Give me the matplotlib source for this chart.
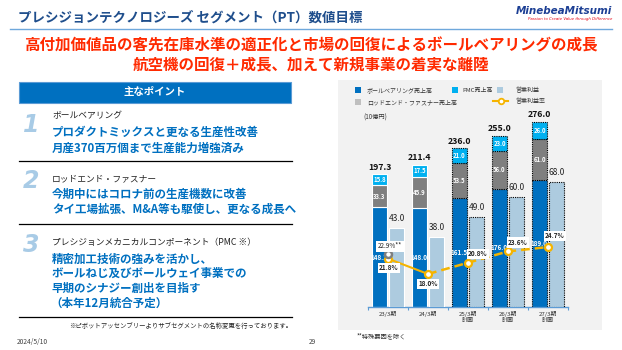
import numpy as np
import matplotlib.pyplot as plt
from matplotlib.patches import Rectangle
from matplotlib.lines import Line2D

plt.rcParams['font.family'] = ['Noto Sans CJK JP', 'DejaVu Sans']

# データ
periods = ['23/3期', '24/3期', '25/3期', '26/3期', '27/3期']
plan_note = ['', '', '計画', '計画', '計画']
ball_bearing = [148.2, 148.0, 161.5, 176.0, 189.0]
rod_end = [33.3, 45.9, 53.5, 56.0, 61.0]
pmc = [15.8, 17.5, 21.0, 23.0, 26.0]
totals = [197.3, 211.4, 236.0, 255.0, 276.0]
op_profit = [43.0, 38.0, 49.0, 60.0, 68.0]
op_margin = [21.8, 18.0, 20.8, 23.6, 24.7]
margin_special = 22.9  # 23/3期 特殊要因を除く

W, H = 622, 350
BLUE = '#0070c0'
PMC_C = '#00b0f0'
GRAY = '#7f7f7f'
LBLUE = '#adcbdf'
ORANGE = '#f5b400'
RED = '#ff2a00'
NAVY = '#1f4e8c'


def fx(x):
    return x / W


def fy(y):
    return 1 - y / H


def txt(x, y, s, **kw):
    kw.setdefault('va', 'center')
    fig.text(fx(x), fy(y), s, **kw)


def rect(x0, y0, x1, y1, **kw):
    fig.add_artist(Rectangle((fx(x0), fy(y1)), (x1 - x0) / W, (y1 - y0) / H,
                             transform=fig.transFigure, **kw))


def hline(x0, x1, y, **kw):
    fig.add_artist(Line2D([fx(x0), fx(x1)], [fy(y), fy(y)],
                          transform=fig.transFigure, **kw))


fig = plt.figure(figsize=(6.22, 3.5), dpi=100)
fig.patch.set_facecolor('white')

# ヘッダー
txt(18, 18, 'プレシジョンテクノロジーズ セグメント（PT）数値目標',
    fontsize=9.7, color=NAVY, fontweight='bold')
hline(10, 612, 29, color='#6fa8dc', lw=1)
txt(612, 11, 'MinebeaMitsumi', ha='right', fontsize=7.5, color='#1c3f94',
    fontweight='bold', style='italic', family='DejaVu Sans')
txt(612, 19, 'Passion to Create Value through Difference', ha='right',
    fontsize=2.8, color='#e60012', style='italic', family='DejaVu Sans')

txt(311, 45, '高付加価値品の客先在庫水準の適正化と市場の回復によるボールベアリングの成長',
    ha='center', fontsize=11.2, color=RED, fontweight='bold')
txt(311, 65, '航空機の回復＋成長、加えて新規事業の着実な離陸',
    ha='center', fontsize=11.2, color=RED, fontweight='bold')

# 左側：主なポイント
rect(19, 82, 291, 103, facecolor=BLUE, edgecolor='#5b9bd5', lw=0.8)
txt(155, 92.5, '主なポイント', ha='center', fontsize=7.5, color='white',
    fontweight='bold')

for n, y in [('1', 125), ('2', 181), ('3', 245)]:
    txt(31, y, n, ha='center', fontsize=17, color='#a8cbe6',
        fontweight='bold', style='italic', family='DejaVu Sans')

small = dict(fontsize=6.3, color='#222222')
main = dict(fontsize=8.3, color=BLUE, fontweight='bold')
txt(52, 116, 'ボールベアリング', **small)
txt(52, 132, 'プロダクトミックスと更なる生産性改善', **main)
txt(52, 148, '月産370百万個まで生産能力増強済み', **main)
hline(19, 292, 161, color='black', lw=0.9)
txt(52, 179, 'ロッドエンド・ファスナー', **small)
txt(52, 194, '今期中にはコロナ前の生産機数に改善', **main)
txt(52, 209, 'タイ工場拡張、M&A等も駆使し、更なる成長へ', **main)
hline(19, 292, 224, color='black', lw=0.9)
txt(52, 242, 'プレシジョンメカニカルコンポーネント（PMC ※）', **small)
txt(52, 259, '精密加工技術の強みを活かし、', **main)
txt(52, 273, 'ボールねじ及びボールウェイ事業での', **main)
txt(52, 288, '早期のシナジー創出を目指す', **main)
txt(50, 303, '（本年12月統合予定）', **main)
hline(19, 292, 317, color='black', lw=0.9)
txt(292, 326, '※ピボットアッセンブリーよりサブセグメントの名称変更を行っております。',
    ha='right', fontsize=4.6, color='#222222')
txt(17, 342, '2024/5/10', fontsize=4.8, color='#444444')
txt(312, 342, '29', ha='center', fontsize=4.8, color='#444444')

# 右側：グラフ
rect(338, 80, 602, 330, facecolor='#f2f2f2', edgecolor='none', zorder=0)

# 凡例
leg = [(358, 90, 367, BLUE, 'ボールベアリング売上高'),
       (455, 90, 462, PMC_C, 'PMC売上高'),
       (500, 90, 515, LBLUE, '営業利益'),
       (358, 102, 367, '#bfbfbf', 'ロッドエンド・ファスナー売上高')]
for x, y, tx, c, s in leg:
    rect(x - 3, y - 3, x + 3, y + 3, facecolor=c, edgecolor='none')
    txt(tx, y, s, fontsize=4.3, color='#333333')
fig.add_artist(Line2D([fx(493), fx(508)], [fy(101), fy(101)], color=ORANGE,
                      lw=1.5, transform=fig.transFigure))
fig.add_artist(Line2D([fx(500.5)], [fy(101)], color=ORANGE, marker='o',
                      ms=4, mfc='white', mew=1.3, transform=fig.transFigure))
txt(515, 101, '営業利益率', fontsize=4.3, color='#333333')
txt(363, 118, '(10億円)', fontsize=4.5, color='#333333')

rect_ax = [fx(368), fy(307), 200 / W, 199 / H]
ax = fig.add_axes(rect_ax)
ax.set_facecolor('none')
x = np.arange(len(periods))
bw = 0.375
off = 0.2125
ax.set_xlim(-0.5, 4.5)
ax.set_ylim(0, 199 / 0.672)

# 営業利益は別スケール
ax3 = ax.twinx()
ax3.set_ylim(0, 199 / 1.84)
ax3.axis('off')

bottom2 = np.array(ball_bearing) + np.array(rod_end)
b1 = ax.bar(x - off, ball_bearing, bw, color=BLUE)
b2 = ax.bar(x - off, rod_end, bw, bottom=ball_bearing, color=GRAY)
b3 = ax.bar(x - off, pmc, bw, bottom=bottom2, color=PMC_C)
b4 = ax3.bar(x + off, op_profit, bw, color=LBLUE)
for bars in (b1, b2, b3, b4):
    for i, p in enumerate(bars):
        if plan_note[i]:
            p.set_edgecolor('black')
            p.set_linestyle((0, (1, 1)))
            p.set_linewidth(0.8)
        else:
            p.set_edgecolor('white')
            p.set_linewidth(0.8)

for i in range(len(x)):
    ax.text(x[i] - off, ball_bearing[i] / 2, f'{ball_bearing[i]:.1f}',
            ha='center', va='center', fontsize=4.6, color='white', fontweight='bold')
    ax.text(x[i] - off, ball_bearing[i] + rod_end[i] / 2, f'{rod_end[i]:.1f}',
            ha='center', va='center', fontsize=4.3, color='white', fontweight='bold')
    ax.text(x[i] - off, bottom2[i] + pmc[i] / 2, f'{pmc[i]:.1f}',
            ha='center', va='center', fontsize=4.3, color='white', fontweight='bold')
    ax.text(x[i] - off, totals[i] + 4, f'{totals[i]:.1f}', ha='center',
            va='bottom', fontsize=6.3, fontweight='bold', color='#111111',
            clip_on=False)
    ax3.text(x[i] + off, op_profit[i] + 2.5, f'{op_profit[i]:.1f}', ha='center',
             va='bottom', fontsize=6, color='#222222')

for s in ('top', 'right', 'left'):
    ax.spines[s].set_visible(False)
ax.spines['bottom'].set_color('#5b9bd5')
ax.spines['bottom'].set_linewidth(1)
ax.set_yticks([])
ax.set_xticks(np.arange(-0.5, 5, 1.0))
ax.set_xticklabels([])
ax.tick_params(axis='x', length=2.5, color='#5b9bd5', width=0.8)
for i in range(len(x)):
    ax.text(x[i], -10, periods[i], ha='center', va='center', fontsize=4.3,
            color='#333333')
    if plan_note[i]:
        ax.text(x[i], -20.5, plan_note[i], ha='center', va='center',
                fontsize=4.3, color='#333333')

# 営業利益率
ax2 = ax.twinx()
ax2.set_ylim(18 - 33 / 4.03, 18 + 166 / 4.03)
ax2.axis('off')
ax2.plot(x[:2], op_margin[:2], color=ORANGE, lw=1.5)
ax2.plot(x[1:], op_margin[1:], color=ORANGE, lw=1.8, ls=(0, (3.5, 2)))
ax2.plot(x, op_margin, 'o', ms=5, mfc='white', mec=ORANGE, mew=1.6)
ax2.plot(x[0], margin_special, 'o', ms=5, mfc='white', mec=GRAY, mew=1.8)

box = dict(boxstyle='square,pad=0.25', fc='white', ec='none')
offsets = [(1, -9), (0, -10), (10, 9), (10, 9), (7, 11)]
for i in range(len(x)):
    ax2.annotate(f'{op_margin[i]:.1f}%', (x[i], op_margin[i]),
                 xytext=offsets[i], textcoords='offset pixels', ha='center',
                 va='center', fontsize=4.6, fontweight='bold', color='#222222',
                 bbox=box)
ax2.annotate(f'{margin_special:.1f}%**', (x[0], margin_special),
             xytext=(2, 8), textcoords='offset pixels', ha='center',
             va='center', fontsize=4.6, color='#222222', bbox=box)

txt(357, 336, '**特殊要因を除く', fontsize=4.5, color='#333333')

fig.savefig('out.png', dpi=100)
